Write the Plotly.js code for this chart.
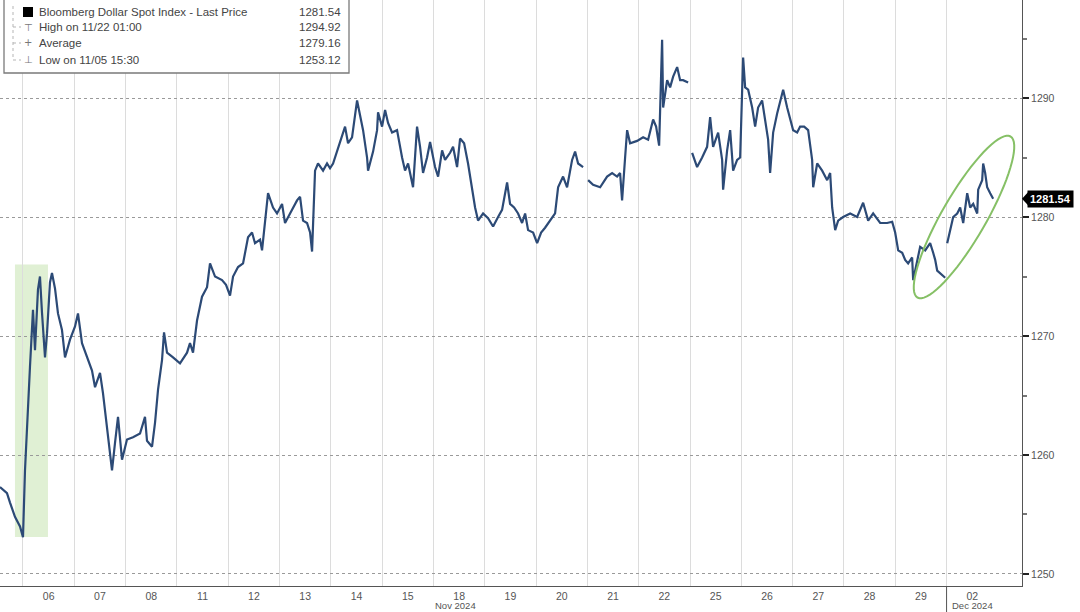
<!DOCTYPE html>
<html>
<head>
<meta charset="utf-8">
<script src="https://cdn.plot.ly/plotly-3.0.1.min.js"></script>
<style>html,body{margin:0;padding:0;background:#fff;}#chart{width:1080px;height:612px;}</style>
</head>
<body>
<div id="chart"></div>
<script>
// Trading-day position (1 = start of Nov 6 session; each session = 1 unit)
const dayPos = [
0.552,0.688,0.747,0.844,0.942,1.000,1.039,1.078,1.136,1.195,1.234,1.292,1.331,1.370,1.429,1.468,1.526,1.565,1.624,1.682,1.760,1.819,1.916,
2.014,2.072,2.150,2.248,2.345,2.404,2.501,2.559,2.637,2.696,2.735,2.793,2.852,2.930,
3.027,3.144,3.281,3.378,3.417,3.515,3.573,3.632,3.710,3.749,3.807,3.924,
4.060,4.197,4.255,4.314,4.392,4.489,4.587,4.645,4.743,4.879,4.957,
5.035,5.094,5.191,5.289,5.386,5.464,5.522,5.620,5.659,5.717,5.776,5.873,5.951,
6.049,6.107,6.205,6.341,6.400,6.458,6.536,6.595,6.634,6.653,6.692,6.750,6.848,6.926,6.984,
7.043,7.121,7.218,7.277,7.335,7.413,7.511,7.569,7.628,7.706,7.725,7.823,7.901,7.920,7.998,
8.057,8.115,8.193,8.290,8.388,8.446,8.505,8.583,8.602,8.680,8.739,8.797,8.875,8.934,
9.031,9.090,9.168,9.226,9.324,9.382,9.460,9.519,9.597,9.674,9.752,9.811,9.869,9.967,
10.064,10.162,10.259,10.337,10.435,10.493,10.571,10.649,10.727,10.786,10.844,10.942,
11.020,11.098,11.175,11.273,11.370,11.429,11.526,11.604,11.702,11.760,11.819,11.916,11.960,
12.014,12.111,12.248,12.384,12.482,12.579,12.637,12.676,12.735,12.774,12.832,12.969,
13.086,13.183,13.281,13.339,13.398,13.456,13.476,13.554,13.612,13.671,13.749,13.807,13.865,13.963,14.000,
14.041,14.138,14.236,14.333,14.392,14.450,14.548,14.626,14.645,14.723,14.782,14.840,14.918,14.977,
15.035,15.074,15.133,15.211,15.269,15.327,15.405,15.464,15.522,15.561,15.620,15.698,15.756,15.815,15.893,15.951,
16.010,16.088,16.146,16.224,16.302,16.380,16.400,16.478,16.575,16.673,16.731,16.770,16.829,16.887,16.984,
17.121,17.257,17.374,17.472,17.569,17.706,17.842,17.940,17.998,
18.057,18.135,18.193,18.251,18.329,18.349,18.427,18.485,18.583,18.680,18.739,18.778,18.817,18.875,18.973,18.990,
19.012,19.070,19.129,19.207,19.265,19.324,19.402,19.460,19.519,19.597,19.616,19.694,19.713,19.752,19.791,19.850,19.908
];
const price = [
1257.3,1256.8,1256.0,1254.8,1254.0,1253.1,1258.7,1262.7,1267.4,1272.2,1268.8,1273.9,1275.0,1272.0,1268.2,1270.2,1274.5,1275.3,1274.0,1271.9,1270.5,1268.2,1269.7,
1270.8,1271.9,1269.4,1268.2,1267.1,1265.7,1266.9,1265.2,1262.1,1259.8,1258.7,1261.0,1263.2,1259.6,
1261.3,1261.5,1261.8,1263.2,1261.2,1260.7,1262.7,1265.5,1268.0,1270.3,1268.6,1268.2,
1267.7,1268.6,1269.4,1268.6,1271.3,1273.3,1274.1,1276.1,1275.0,1274.7,1274.3,
1273.4,1275.0,1275.8,1276.1,1278.3,1278.7,1277.8,1278.1,1277.2,1279.5,1282.0,1280.8,1280.3,
1281.1,1279.5,1280.3,1281.4,1281.7,1279.7,1279.5,1278.7,1277.1,1279.7,1283.9,1284.5,1283.9,1284.5,1284.1,
1284.5,1285.5,1286.7,1287.6,1286.2,1286.7,1289.8,1288.7,1287.3,1285.0,1283.9,1285.5,1287.3,1288.8,1287.6,
1289.0,1287.9,1287.1,1287.3,1285.0,1283.9,1284.5,1283.1,1282.5,1287.6,1285.9,1283.7,1285.0,1286.3,
1284.2,1283.4,1285.6,1284.8,1285.4,1285.9,1284.2,1286.6,1286.2,1284.5,1282.3,1280.8,1279.7,1280.3,
1279.9,1279.2,1280.0,1280.6,1282.9,1281.1,1280.8,1280.3,1279.5,1280.3,1278.9,1278.7,
1277.8,1278.7,1279.1,1279.7,1280.3,1282.5,1283.4,1282.5,1284.8,1285.5,1284.5,1284.2,null,
1283.1,1282.7,1282.5,1283.4,1283.7,1283.4,1283.7,1281.4,1285.0,1287.3,1286.2,1286.4,
1286.7,1286.5,1288.2,1287.6,1286.0,1294.9,1289.2,1291.5,1290.9,1291.8,1292.6,1291.5,1291.5,1291.3,null,
1285.4,1284.2,1285.0,1285.9,1288.4,1285.9,1287.1,1284.8,1282.3,1285.6,1287.3,1283.9,1284.8,1285.0,
1293.4,1290.9,1290.7,1289.2,1287.6,1289.2,1289.8,1287.9,1286.5,1283.7,1287.1,1288.7,1289.8,1290.7,1289.2,1288.2,
1287.3,1287.1,1287.6,1287.6,1287.3,1284.8,1282.5,1284.5,1283.9,1283.1,1283.7,1280.8,1278.9,1279.7,1280.0,
1280.3,1280.0,1281.2,1279.7,1280.3,1279.5,1279.5,1279.6,1278.7,
1277.2,1277.0,1276.4,1276.1,1276.6,1274.7,1276.4,1277.5,1277.2,1277.8,1277.0,1276.4,1275.5,1275.3,1274.9,null,
1277.8,1278.9,1280.0,1280.3,1280.8,1279.5,1282.0,1280.8,1281.1,1280.3,1282.3,1283.1,1284.5,1283.7,1282.5,1282.0,1281.54
];
const dayLabels = ['06','07','08','11','12','13','14','15','18','19','20','21','22','25','26','27','28','29','02'];
const yTicks = [1250,1260,1270,1280,1290];
const yMinor = [1255,1265,1275,1285,1295];
const legendNames = ['Bloomberg Dollar Spot Index - Last Price','High on 11/22 01:00','Average','Low on 11/05 15:30'];
const legendValues = ['1281.54','1294.92','1279.16','1253.12'];
const legendSymbols = ['','\u22A4','+','\u22A5'];
const lastPrice = 1281.54;
const highlightX = [0.844, 1.487];
const highlightY = [1253.1, 1276.0];

// pixel geometry of the plot area
const W = 1080, H = 612, ML = 0, MR = 58, MT = 0, MB = 26;
const PW = W - ML - MR, PH = H - MT - MB;
const YR = [1248.99, 1298.24];
const px2paperX = p => p / PW;
const py2paperY = p => (PH - p) / PH;

const tickPos = dayLabels.map((_, i) => i + 1.5);
const boundaries = dayLabels.map((_, i) => i + 1);

const shapes = [];
const annotations = [];

// highlight box
shapes.push({type:'rect', layer:'below', xref:'x', yref:'y', x0:highlightX[0], x1:highlightX[1], y0:highlightY[0], y1:highlightY[1],
  fillcolor:'rgba(214,235,198,0.75)', line:{width:0}});

// ellipse (annotation drawing)
(function(){
  const cx = 964, cy = 217, a = 93, b = 22, th = 60 * Math.PI / 180;
  const ux = Math.cos(th), uy = -Math.sin(th), vx = Math.sin(th), vy = Math.cos(th);
  let d = '';
  for (let k = 0; k <= 72; k++) {
    const t = k / 72 * 2 * Math.PI;
    const x = cx + a * Math.cos(t) * ux + b * Math.sin(t) * vx;
    const y = cy + a * Math.cos(t) * uy + b * Math.sin(t) * vy;
    d += (k === 0 ? 'M' : 'L') + px2paperX(x).toFixed(5) + ',' + py2paperY(y).toFixed(5);
  }
  d += 'Z';
  shapes.push({type:'path', xref:'paper', yref:'paper', path:d, line:{color:'#86c066', width:2}});
})();

// month separator below axis
shapes.push({type:'line', xref:'x', yref:'paper', x0:19, x1:19, y0:0, y1:-0.06, line:{color:'#555', width:1}});

// legend box
shapes.push({type:'rect', xref:'paper', yref:'paper', x0:px2paperX(4), x1:px2paperX(349), y0:py2paperY(-2), y1:py2paperY(73),
  fillcolor:'#fff', line:{color:'#7a7a7a', width:1.3}});
// tree connector
shapes.push({type:'line', xref:'paper', yref:'paper', x0:px2paperX(13), x1:px2paperX(13), y0:py2paperY(6), y1:py2paperY(60),
  line:{color:'#b5b5b5', width:1, dash:'dot'}});
[27,43,60].forEach(y => shapes.push({type:'line', xref:'paper', yref:'paper', x0:px2paperX(13), x1:px2paperX(21), y0:py2paperY(y), y1:py2paperY(y),
  line:{color:'#b5b5b5', width:1, dash:'dot'}}));
// black square
shapes.push({type:'rect', xref:'paper', yref:'paper', x0:px2paperX(23), x1:px2paperX(33), y0:py2paperY(17), y1:py2paperY(7),
  fillcolor:'#000', line:{width:0}});

const rowY = [12, 27, 43, 60];
legendNames.forEach((n, i) => {
  annotations.push({xref:'paper', yref:'paper', x:px2paperX(37), y:py2paperY(rowY[i]), xanchor:'left', yanchor:'middle',
    text:n, showarrow:false, font:{family:'Liberation Sans, Arial, sans-serif', size:11.5, color:'#444'}});
  annotations.push({xref:'paper', yref:'paper', x:px2paperX(343), y:py2paperY(rowY[i]), xanchor:'right', yanchor:'middle',
    text:legendValues[i], showarrow:false, font:{family:'Liberation Sans, Arial, sans-serif', size:11.5, color:'#444'}});
  if (legendSymbols[i]) {
    annotations.push({xref:'paper', yref:'paper', x:px2paperX(28), y:py2paperY(rowY[i]), xanchor:'center', yanchor:'middle',
      text:legendSymbols[i], showarrow:false, font:{family:'DejaVu Sans, sans-serif', size:10, color:'#777'}});
  }
});

// month labels
annotations.push({xref:'paper', yref:'paper', x:px2paperX(455), y:py2paperY(612), xanchor:'center', yanchor:'bottom',
  text:'Nov 2024', showarrow:false, borderpad:0, font:{family:'Liberation Sans, Arial, sans-serif', size:9.5, color:'#555'}});
annotations.push({xref:'paper', yref:'paper', x:px2paperX(972), y:py2paperY(612), xanchor:'center', yanchor:'bottom',
  text:'Dec 2024', showarrow:false, borderpad:0, font:{family:'Liberation Sans, Arial, sans-serif', size:9.5, color:'#555'}});

// last price tag
annotations.push({xref:'paper', yref:'y', x:px2paperX(1027), y:lastPrice, xanchor:'left', yanchor:'middle',
  text:'<b>' + lastPrice.toFixed(2) + '</b>', showarrow:false, bgcolor:'#000', borderpad:2,
  font:{family:'Liberation Sans Narrow, Liberation Sans, sans-serif', size:11, color:'#fff'}});
(function(){
  const py = PH - (lastPrice - YR[0]) / (YR[1] - YR[0]) * PH;
  shapes.push({type:'path', xref:'paper', yref:'paper',
    path:'M' + px2paperX(1022) + ',' + py2paperY(py) + 'L' + px2paperX(1028) + ',' + py2paperY(py - 6.5) + 'L' + px2paperX(1028) + ',' + py2paperY(py + 6.5) + 'Z',
    fillcolor:'#000', line:{width:0}});
})();

const trace = {
  type:'scatter', mode:'lines', x:dayPos, y:price, connectgaps:false,
  line:{color:'#2c4a76', width:2.2}, hoverinfo:'skip'
};

const layout = {
  width:W, height:H,
  margin:{l:ML, r:MR, t:MT, b:MB, pad:0},
  paper_bgcolor:'#fff', plot_bgcolor:'#fff',
  showlegend:false,
  xaxis:{
    range:[0.552, 20.47], tickmode:'array', tickvals:tickPos, ticktext:dayLabels,
    showgrid:false, zeroline:false, showline:true, linecolor:'#555', linewidth:1,
    ticks:'', ticklabelstandoff:0, tickfont:{family:'Liberation Sans, Arial, sans-serif', size:10.5, color:'#555'},
    minor:{tickmode:'array', tickvals:boundaries, showgrid:true, gridcolor:'#dcdcdc', gridwidth:1, ticks:''}
  },
  yaxis:{
    side:'right', range:YR, tickmode:'array', tickvals:yTicks,
    showgrid:true, gridcolor:'#9a9a9a', gridwidth:1, griddash:'dot', zeroline:false,
    showline:true, linecolor:'#555', linewidth:1,
    ticks:'outside', ticklen:6, tickwidth:2, tickcolor:'#222',
    tickfont:{family:'Liberation Sans, Arial, sans-serif', size:10.5, color:'#555'},
    minor:{tickmode:'array', tickvals:yMinor, ticks:'outside', ticklen:4, tickcolor:'#777', showgrid:false}
  },
  shapes:shapes,
  annotations:annotations
};

Plotly.newPlot('chart', [trace], layout, {displayModeBar:false, staticPlot:true});
</script>
</body>
</html>
